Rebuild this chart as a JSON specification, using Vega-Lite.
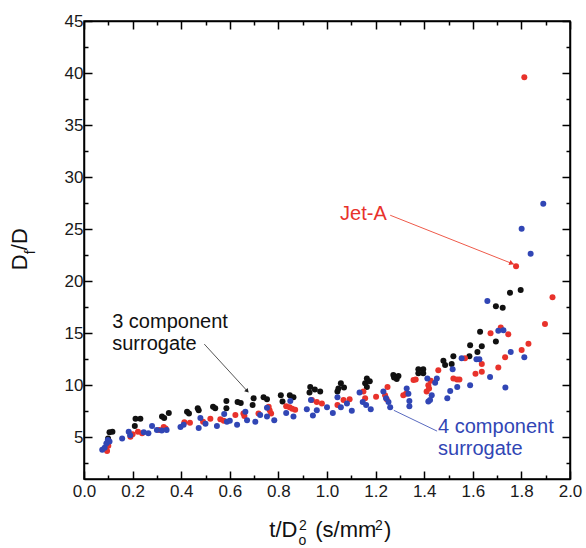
{
  "$schema": "https://vega.github.io/schema/vega-lite/v6.json",
  "width": 486,
  "height": 458,
  "autosize": {"type": "none"},
  "padding": {"left": 84, "top": 21, "right": 16, "bottom": 69},
  "background": "white",
  "config": {"view": {"stroke": "black", "strokeWidth": 1.5}, "font": "Liberation Sans"},
  "datasets": {
    "points": [
      {"series": "3 component surrogate", "x": 0.099, "y": 4.9}, {"series": "3 component surrogate", "x": 0.105, "y": 5.5}, {"series": "3 component surrogate", "x": 0.117, "y": 5.55},
      {"series": "3 component surrogate", "x": 0.209, "y": 6.1}, {"series": "3 component surrogate", "x": 0.212, "y": 6.8}, {"series": "3 component surrogate", "x": 0.232, "y": 6.8},
      {"series": "3 component surrogate", "x": 0.321, "y": 7.0}, {"series": "3 component surrogate", "x": 0.33, "y": 6.85}, {"series": "3 component surrogate", "x": 0.349, "y": 7.35},
      {"series": "3 component surrogate", "x": 0.424, "y": 7.45}, {"series": "3 component surrogate", "x": 0.432, "y": 7.3}, {"series": "3 component surrogate", "x": 0.468, "y": 7.8},
      {"series": "3 component surrogate", "x": 0.472, "y": 7.6}, {"series": "3 component surrogate", "x": 0.531, "y": 7.95}, {"series": "3 component surrogate", "x": 0.54, "y": 7.8},
      {"series": "3 component surrogate", "x": 0.586, "y": 8.5}, {"series": "3 component surrogate", "x": 0.586, "y": 7.8}, {"series": "3 component surrogate", "x": 0.632, "y": 8.4},
      {"series": "3 component surrogate", "x": 0.645, "y": 8.3}, {"series": "3 component surrogate", "x": 0.694, "y": 8.1}, {"series": "3 component surrogate", "x": 0.698, "y": 8.75},
      {"series": "3 component surrogate", "x": 0.739, "y": 8.85}, {"series": "3 component surrogate", "x": 0.753, "y": 8.65}, {"series": "3 component surrogate", "x": 0.81, "y": 9.05},
      {"series": "3 component surrogate", "x": 0.817, "y": 8.45}, {"series": "3 component surrogate", "x": 0.847, "y": 9.05}, {"series": "3 component surrogate", "x": 0.862, "y": 8.85},
      {"series": "3 component surrogate", "x": 0.928, "y": 9.3}, {"series": "3 component surrogate", "x": 0.931, "y": 9.85}, {"series": "3 component surrogate", "x": 0.95, "y": 9.6},
      {"series": "3 component surrogate", "x": 0.972, "y": 9.4}, {"series": "3 component surrogate", "x": 1.043, "y": 9.4}, {"series": "3 component surrogate", "x": 1.047, "y": 9.7},
      {"series": "3 component surrogate", "x": 1.057, "y": 10.2}, {"series": "3 component surrogate", "x": 1.07, "y": 9.8}, {"series": "3 component surrogate", "x": 1.157, "y": 10.2},
      {"series": "3 component surrogate", "x": 1.164, "y": 10.65}, {"series": "3 component surrogate", "x": 1.164, "y": 9.85}, {"series": "3 component surrogate", "x": 1.176, "y": 10.4},
      {"series": "3 component surrogate", "x": 1.273, "y": 11.0}, {"series": "3 component surrogate", "x": 1.287, "y": 10.6}, {"series": "3 component surrogate", "x": 1.294, "y": 10.9},
      {"series": "3 component surrogate", "x": 1.276, "y": 10.75}, {"series": "3 component surrogate", "x": 1.376, "y": 11.55}, {"series": "3 component surrogate", "x": 1.396, "y": 11.55},
      {"series": "3 component surrogate", "x": 1.376, "y": 11.15}, {"series": "3 component surrogate", "x": 1.396, "y": 11.15}, {"series": "3 component surrogate", "x": 1.479, "y": 12.35},
      {"series": "3 component surrogate", "x": 1.486, "y": 11.95}, {"series": "3 component surrogate", "x": 1.513, "y": 12.05}, {"series": "3 component surrogate", "x": 1.52, "y": 12.8},
      {"series": "3 component surrogate", "x": 1.586, "y": 12.8}, {"series": "3 component surrogate", "x": 1.589, "y": 13.85}, {"series": "3 component surrogate", "x": 1.619, "y": 13.2},
      {"series": "3 component surrogate", "x": 1.63, "y": 15.15}, {"series": "3 component surrogate", "x": 1.637, "y": 13.75}, {"series": "3 component surrogate", "x": 1.695, "y": 14.2},
      {"series": "3 component surrogate", "x": 1.695, "y": 17.6}, {"series": "3 component surrogate", "x": 1.723, "y": 17.45}, {"series": "3 component surrogate", "x": 1.753, "y": 18.9},
      {"series": "3 component surrogate", "x": 1.797, "y": 19.15},
      {"series": "Jet-A", "x": 0.095, "y": 3.7}, {"series": "Jet-A", "x": 0.09, "y": 3.9}, {"series": "Jet-A", "x": 0.1, "y": 4.2},
      {"series": "Jet-A", "x": 0.191, "y": 5.05}, {"series": "Jet-A", "x": 0.2, "y": 5.3}, {"series": "Jet-A", "x": 0.239, "y": 5.4},
      {"series": "Jet-A", "x": 0.222, "y": 5.55}, {"series": "Jet-A", "x": 0.31, "y": 5.7}, {"series": "Jet-A", "x": 0.328, "y": 6.0},
      {"series": "Jet-A", "x": 0.336, "y": 5.85}, {"series": "Jet-A", "x": 0.413, "y": 6.45}, {"series": "Jet-A", "x": 0.436, "y": 6.4},
      {"series": "Jet-A", "x": 0.49, "y": 6.5}, {"series": "Jet-A", "x": 0.52, "y": 6.8}, {"series": "Jet-A", "x": 0.561, "y": 6.75},
      {"series": "Jet-A", "x": 0.575, "y": 6.6}, {"series": "Jet-A", "x": 0.623, "y": 7.15}, {"series": "Jet-A", "x": 0.656, "y": 7.3},
      {"series": "Jet-A", "x": 0.66, "y": 7.05}, {"series": "Jet-A", "x": 0.718, "y": 7.3}, {"series": "Jet-A", "x": 0.76, "y": 7.95},
      {"series": "Jet-A", "x": 0.764, "y": 7.6}, {"series": "Jet-A", "x": 0.77, "y": 7.3}, {"series": "Jet-A", "x": 0.832, "y": 8.0},
      {"series": "Jet-A", "x": 0.846, "y": 7.9}, {"series": "Jet-A", "x": 0.857, "y": 7.75}, {"series": "Jet-A", "x": 0.869, "y": 7.65},
      {"series": "Jet-A", "x": 0.938, "y": 8.6}, {"series": "Jet-A", "x": 0.958, "y": 8.4}, {"series": "Jet-A", "x": 0.979, "y": 8.25},
      {"series": "Jet-A", "x": 1.043, "y": 8.1}, {"series": "Jet-A", "x": 1.068, "y": 8.6}, {"series": "Jet-A", "x": 1.093, "y": 8.65},
      {"series": "Jet-A", "x": 1.15, "y": 9.4}, {"series": "Jet-A", "x": 1.157, "y": 8.75}, {"series": "Jet-A", "x": 1.202, "y": 8.9},
      {"series": "Jet-A", "x": 1.239, "y": 9.05}, {"series": "Jet-A", "x": 1.246, "y": 8.65}, {"series": "Jet-A", "x": 1.249, "y": 9.85},
      {"series": "Jet-A", "x": 1.314, "y": 9.05}, {"series": "Jet-A", "x": 1.325, "y": 9.2}, {"series": "Jet-A", "x": 1.356, "y": 10.5},
      {"series": "Jet-A", "x": 1.365, "y": 10.55}, {"series": "Jet-A", "x": 1.41, "y": 9.4}, {"series": "Jet-A", "x": 1.417, "y": 10.0},
      {"series": "Jet-A", "x": 1.42, "y": 9.7}, {"series": "Jet-A", "x": 1.427, "y": 10.45}, {"series": "Jet-A", "x": 1.458, "y": 11.45},
      {"series": "Jet-A", "x": 1.52, "y": 10.65}, {"series": "Jet-A", "x": 1.535, "y": 10.55}, {"series": "Jet-A", "x": 1.545, "y": 10.55},
      {"series": "Jet-A", "x": 1.568, "y": 12.6}, {"series": "Jet-A", "x": 1.611, "y": 11.1}, {"series": "Jet-A", "x": 1.637, "y": 12.05},
      {"series": "Jet-A", "x": 1.637, "y": 11.3}, {"series": "Jet-A", "x": 1.673, "y": 15.0}, {"series": "Jet-A", "x": 1.705, "y": 11.7},
      {"series": "Jet-A", "x": 1.715, "y": 15.55}, {"series": "Jet-A", "x": 1.733, "y": 12.7}, {"series": "Jet-A", "x": 1.746, "y": 14.9},
      {"series": "Jet-A", "x": 1.778, "y": 21.45}, {"series": "Jet-A", "x": 1.801, "y": 13.4}, {"series": "Jet-A", "x": 1.812, "y": 39.6},
      {"series": "Jet-A", "x": 1.829, "y": 14.0}, {"series": "Jet-A", "x": 1.897, "y": 15.9}, {"series": "Jet-A", "x": 1.928, "y": 18.45},
      {"series": "4 component surrogate", "x": 0.075, "y": 3.8}, {"series": "4 component surrogate", "x": 0.085, "y": 4.0}, {"series": "4 component surrogate", "x": 0.098, "y": 4.75},
      {"series": "4 component surrogate", "x": 0.092, "y": 4.4}, {"series": "4 component surrogate", "x": 0.105, "y": 4.6}, {"series": "4 component surrogate", "x": 0.157, "y": 4.9},
      {"series": "4 component surrogate", "x": 0.184, "y": 5.55}, {"series": "4 component surrogate", "x": 0.19, "y": 5.2}, {"series": "4 component surrogate", "x": 0.246, "y": 5.5},
      {"series": "4 component surrogate", "x": 0.265, "y": 5.4}, {"series": "4 component surrogate", "x": 0.28, "y": 6.1}, {"series": "4 component surrogate", "x": 0.3, "y": 5.7},
      {"series": "4 component surrogate", "x": 0.32, "y": 5.65}, {"series": "4 component surrogate", "x": 0.34, "y": 5.7}, {"series": "4 component surrogate", "x": 0.397, "y": 6.0},
      {"series": "4 component surrogate", "x": 0.41, "y": 6.2}, {"series": "4 component surrogate", "x": 0.472, "y": 5.9}, {"series": "4 component surrogate", "x": 0.479, "y": 6.85},
      {"series": "4 component surrogate", "x": 0.5, "y": 6.3}, {"series": "4 component surrogate", "x": 0.547, "y": 6.1}, {"series": "4 component surrogate", "x": 0.577, "y": 7.25},
      {"series": "4 component surrogate", "x": 0.588, "y": 6.5}, {"series": "4 component surrogate", "x": 0.6, "y": 6.6}, {"series": "4 component surrogate", "x": 0.63, "y": 6.2},
      {"series": "4 component surrogate", "x": 0.664, "y": 7.45}, {"series": "4 component surrogate", "x": 0.671, "y": 6.65}, {"series": "4 component surrogate", "x": 0.705, "y": 6.5},
      {"series": "4 component surrogate", "x": 0.725, "y": 7.15}, {"series": "4 component surrogate", "x": 0.753, "y": 7.0}, {"series": "4 component surrogate", "x": 0.753, "y": 7.85},
      {"series": "4 component surrogate", "x": 0.783, "y": 6.65}, {"series": "4 component surrogate", "x": 0.832, "y": 7.35}, {"series": "4 component surrogate", "x": 0.849, "y": 8.5},
      {"series": "4 component surrogate", "x": 0.862, "y": 7.0}, {"series": "4 component surrogate", "x": 0.917, "y": 7.7}, {"series": "4 component surrogate", "x": 0.934, "y": 8.6},
      {"series": "4 component surrogate", "x": 0.942, "y": 7.1}, {"series": "4 component surrogate", "x": 0.958, "y": 7.6}, {"series": "4 component surrogate", "x": 1.0, "y": 7.9},
      {"series": "4 component surrogate", "x": 1.024, "y": 7.35}, {"series": "4 component surrogate", "x": 1.043, "y": 8.85}, {"series": "4 component surrogate", "x": 1.057, "y": 7.9},
      {"series": "4 component surrogate", "x": 1.082, "y": 8.25}, {"series": "4 component surrogate", "x": 1.102, "y": 7.55}, {"series": "4 component surrogate", "x": 1.134, "y": 9.3},
      {"series": "4 component surrogate", "x": 1.147, "y": 8.4}, {"series": "4 component surrogate", "x": 1.161, "y": 8.1}, {"series": "4 component surrogate", "x": 1.18, "y": 7.7},
      {"series": "4 component surrogate", "x": 1.232, "y": 9.4}, {"series": "4 component surrogate", "x": 1.243, "y": 8.75}, {"series": "4 component surrogate", "x": 1.253, "y": 8.4},
      {"series": "4 component surrogate", "x": 1.26, "y": 7.9}, {"series": "4 component surrogate", "x": 1.328, "y": 9.7}, {"series": "4 component surrogate", "x": 1.335, "y": 9.2},
      {"series": "4 component surrogate", "x": 1.339, "y": 8.5}, {"series": "4 component surrogate", "x": 1.339, "y": 8.0}, {"series": "4 component surrogate", "x": 1.413, "y": 10.65},
      {"series": "4 component surrogate", "x": 1.417, "y": 8.45}, {"series": "4 component surrogate", "x": 1.424, "y": 8.6}, {"series": "4 component surrogate", "x": 1.431, "y": 9.05},
      {"series": "4 component surrogate", "x": 1.445, "y": 10.25}, {"series": "4 component surrogate", "x": 1.452, "y": 10.65}, {"series": "4 component surrogate", "x": 1.495, "y": 8.75},
      {"series": "4 component surrogate", "x": 1.507, "y": 9.45}, {"series": "4 component surrogate", "x": 1.517, "y": 11.55}, {"series": "4 component surrogate", "x": 1.536, "y": 9.85},
      {"series": "4 component surrogate", "x": 1.554, "y": 12.6}, {"series": "4 component surrogate", "x": 1.589, "y": 10.0}, {"series": "4 component surrogate", "x": 1.615, "y": 12.5},
      {"series": "4 component surrogate", "x": 1.627, "y": 12.5}, {"series": "4 component surrogate", "x": 1.66, "y": 18.1}, {"series": "4 component surrogate", "x": 1.671, "y": 10.8},
      {"series": "4 component surrogate", "x": 1.705, "y": 15.25}, {"series": "4 component surrogate", "x": 1.726, "y": 15.3}, {"series": "4 component surrogate", "x": 1.734, "y": 9.8},
      {"series": "4 component surrogate", "x": 1.756, "y": 13.2}, {"series": "4 component surrogate", "x": 1.801, "y": 25.05}, {"series": "4 component surrogate", "x": 1.812, "y": 12.7},
      {"series": "4 component surrogate", "x": 1.838, "y": 22.65}, {"series": "4 component surrogate", "x": 1.89, "y": 27.45}
    ]
  },
  "layer": [
    {
      "data": {"name": "points"},
      "mark": {"type": "circle", "size": 36, "opacity": 1},
      "encoding": {
        "x": {"field": "x", "type": "quantitative", "scale": {"domain": [0, 2], "nice": false, "zero": false},
          "axis": {"orient": "bottom", "title": null, "grid": false,
            "values": [0,0.1,0.2,0.3,0.4,0.5,0.6,0.7,0.8,0.9,1,1.1,1.2,1.3,1.4,1.5,1.6,1.7,1.8,1.9,2],
            "labelExpr": "round(datum.value*10)%2==0 ? format(datum.value,'.1f') : ''",
            "tickSize": {"condition": {"test": "round(datum.value*10)%2==0", "value": -8}, "value": -4},
            "tickColor": "black", "tickWidth": 1.5, "domainColor": "black", "domainWidth": 1.5,
            "labelFontSize": 17, "labelColor": "#1a1a1a", "labelPadding": 12, "labelFlush": false, "labelOverlap": false}},
        "y": {"field": "y", "type": "quantitative", "scale": {"domain": [1, 45], "nice": false, "zero": false},
          "axis": {"orient": "left", "title": null, "grid": false,
            "values": [2.5,5,7.5,10,12.5,15,17.5,20,22.5,25,27.5,30,32.5,35,37.5,40,42.5,45],
            "labelExpr": "datum.value%5==0 ? format(datum.value,'d') : ''",
            "tickSize": {"condition": {"test": "datum.value%5==0", "value": -8}, "value": -4},
            "tickColor": "black", "tickWidth": 1.5, "domainColor": "black", "domainWidth": 1.5,
            "labelFontSize": 17, "labelColor": "#1a1a1a", "labelPadding": 9, "labelFlush": false, "labelOverlap": false}},
        "color": {"field": "series", "type": "nominal",
          "scale": {"domain": ["3 component surrogate", "Jet-A", "4 component surrogate"], "range": ["#111111", "#e8322b", "#3146b5"]},
          "legend": null}
      }
    },
    {
      "data": {"name": "points"},
      "mark": {"type": "point", "opacity": 0},
      "encoding": {
        "x": {"field": "x", "type": "quantitative",
          "axis": {"orient": "top", "title": null, "grid": false, "labels": false,
            "values": [0,0.1,0.2,0.3,0.4,0.5,0.6,0.7,0.8,0.9,1,1.1,1.2,1.3,1.4,1.5,1.6,1.7,1.8,1.9,2],
            "tickSize": {"condition": {"test": "round(datum.value*10)%2==0", "value": -8}, "value": -4},
            "tickColor": "black", "tickWidth": 1.5, "domainColor": "black", "domainWidth": 1.5}},
        "y": {"field": "y", "type": "quantitative",
          "axis": {"orient": "right", "title": null, "grid": false, "labels": false,
            "values": [2.5,5,7.5,10,12.5,15,17.5,20,22.5,25,27.5,30,32.5,35,37.5,40,42.5,45],
            "tickSize": {"condition": {"test": "datum.value%5==0", "value": -8}, "value": -4},
            "tickColor": "black", "tickWidth": 1.5, "domainColor": "black", "domainWidth": 1.5}}
      }
    },
    {
      "data": {"values": [{"x": 0.495, "y": 13.96, "x2": 0.672, "y2": 9.45}]},
      "mark": {"type": "rule", "color": "#555555", "strokeWidth": 1},
      "encoding": {"x": {"field": "x", "type": "quantitative", "axis": null}, "y": {"field": "y", "type": "quantitative", "axis": null}, "x2": {"field": "x2"}, "y2": {"field": "y2"}}
    },
    {
      "data": {"values": [{"x": 0.672, "y": 9.45}]},
      "mark": {"type": "point", "shape": "triangle-right", "filled": true, "size": 22, "angle": 47, "color": "#222222", "opacity": 1},
      "encoding": {"x": {"field": "x", "type": "quantitative", "axis": null}, "y": {"field": "y", "type": "quantitative", "axis": null}}
    },
    {
      "data": {"values": [{"x": 1.26, "y": 26.34, "x2": 1.769, "y2": 21.63}]},
      "mark": {"type": "rule", "color": "#ee5a4a", "strokeWidth": 1},
      "encoding": {"x": {"field": "x", "type": "quantitative", "axis": null}, "y": {"field": "y", "type": "quantitative", "axis": null}, "x2": {"field": "x2"}, "y2": {"field": "y2"}}
    },
    {
      "data": {"values": [{"x": 1.76, "y": 21.72}]},
      "mark": {"type": "point", "shape": "triangle-right", "filled": true, "size": 30, "angle": 22, "color": "#e8322b", "opacity": 1},
      "encoding": {"x": {"field": "x", "type": "quantitative", "axis": null}, "y": {"field": "y", "type": "quantitative", "axis": null}}
    },
    {
      "data": {"values": [{"x": 1.453, "y": 5.6, "x2": 1.275, "y2": 7.6}]},
      "mark": {"type": "rule", "color": "#5a6bc0", "strokeWidth": 1},
      "encoding": {"x": {"field": "x", "type": "quantitative", "axis": null}, "y": {"field": "y", "type": "quantitative", "axis": null}, "x2": {"field": "x2"}, "y2": {"field": "y2"}}
    },
    {
      "data": {"values": [{"text": "3 component\nsurrogate", "x": 0.116, "y": 15.46}]},
      "mark": {"type": "text", "align": "left", "baseline": "alphabetic", "fontSize": 20, "lineHeight": 22, "lineBreak": "\n", "color": "#111111"},
      "encoding": {"x": {"field": "x", "type": "quantitative", "axis": null}, "y": {"field": "y", "type": "quantitative", "axis": null}, "text": {"field": "text"}}
    },
    {
      "data": {"values": [{"text": "Jet-A", "x": 1.054, "y": 25.86}]},
      "mark": {"type": "text", "align": "left", "baseline": "alphabetic", "fontSize": 20, "color": "#e8322b"},
      "encoding": {"x": {"field": "x", "type": "quantitative", "axis": null}, "y": {"field": "y", "type": "quantitative", "axis": null}, "text": {"field": "text"}}
    },
    {
      "data": {"values": [{"text": "4 component\nsurrogate", "x": 1.457, "y": 5.44}]},
      "mark": {"type": "text", "align": "left", "baseline": "alphabetic", "fontSize": 20, "lineHeight": 22, "lineBreak": "\n", "color": "#3146b5"},
      "encoding": {"x": {"field": "x", "type": "quantitative", "axis": null}, "y": {"field": "y", "type": "quantitative", "axis": null}, "text": {"field": "text"}}
    },
    {
      "data": {"values": [{"text": "D", "x": -0.2335, "y": 21.06}, {"text": "/D", "x": -0.2335, "y": 22.98}]},
      "mark": {"type": "text", "align": "left", "baseline": "alphabetic", "fontSize": 22, "angle": 270, "color": "#111111"},
      "encoding": {"x": {"field": "x", "type": "quantitative", "axis": null}, "y": {"field": "y", "type": "quantitative", "axis": null}, "text": {"field": "text"}}
    },
    {
      "data": {"values": [{"text": "f", "x": -0.2, "y": 22.6}]},
      "mark": {"type": "text", "align": "left", "baseline": "alphabetic", "fontSize": 14, "angle": 270, "color": "#111111"},
      "encoding": {"x": {"field": "x", "type": "quantitative", "axis": null}, "y": {"field": "y", "type": "quantitative", "axis": null}, "text": {"field": "text"}}
    },
    {
      "data": {"values": [{"text": "t/D", "x": 0.7624, "y": -4.54}, {"text": "(s/mm", "x": 0.9515, "y": -4.54}, {"text": ")", "x": 1.235, "y": -4.54}]},
      "mark": {"type": "text", "align": "left", "baseline": "alphabetic", "fontSize": 22, "color": "#111111"},
      "encoding": {"x": {"field": "x", "type": "quantitative", "axis": null}, "y": {"field": "y", "type": "quantitative", "axis": null}, "text": {"field": "text"}}
    },
    {
      "data": {"values": [{"text": "o", "x": 0.883, "y": -5.3}, {"text": "2", "x": 0.885, "y": -3.89}, {"text": "2", "x": 1.198, "y": -3.89}]},
      "mark": {"type": "text", "align": "left", "baseline": "alphabetic", "fontSize": 14, "color": "#111111"},
      "encoding": {"x": {"field": "x", "type": "quantitative", "axis": null}, "y": {"field": "y", "type": "quantitative", "axis": null}, "text": {"field": "text"}}
    }
  ],
  "resolve": {"axis": {"x": "independent", "y": "independent"}}
}
